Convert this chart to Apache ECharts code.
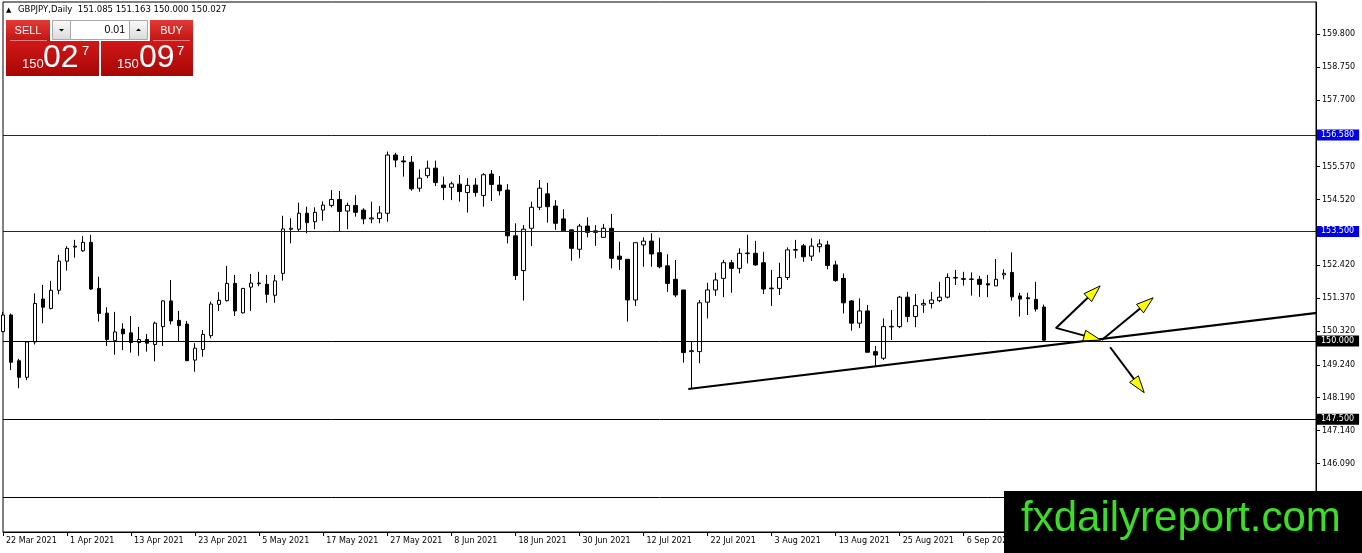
<!DOCTYPE html>
<html>
<head>
<meta charset="utf-8">
<script src="https://cdn.jsdelivr.net/npm/echarts@6/dist/echarts.min.js"></script>
<style>
html,body{margin:0;padding:0;background:#fff;}
#chart{width:1362px;height:553px;}
</style>
</head>
<body>
<div id="chart"></div>
<script>
// ---- data ----
const symbolName = 'GBPJPY';
const timeframe = 'Daily';
const tickLabels = ['22 Mar 2021','1 Apr 2021','13 Apr 2021','23 Apr 2021','5 May 2021','17 May 2021','27 May 2021','8 Jun 2021','18 Jun 2021','30 Jun 2021','12 Jul 2021','22 Jul 2021','3 Aug 2021','13 Aug 2021','25 Aug 2021','6 Sep 2021'];
const barsPerTick = 8;
const totalSlots = 165; // bars plus empty chart shift area
const priceTicks = [159.800,158.750,157.700,155.570,154.520,152.420,151.370,150.320,149.240,148.190,147.140,146.090];
const levels = [156.580,153.500,150.000,147.500,145.000];
const opens = [150.30,150.83,149.37,148.84,149.97,151.34,151.04,151.62,152.55,153.00,152.88,153.15,151.68,150.89,150.01,150.38,150.26,149.95,150.05,149.89,
150.46,151.28,150.66,150.54,149.39,149.73,150.17,151.17,151.29,151.84,150.90,151.72,151.83,151.81,151.46,152.16,153.57,153.57,154.08,153.81,
154.18,154.33,154.52,154.15,154.33,154.18,153.90,153.91,154.08,155.94,155.75,155.71,154.88,155.28,155.52,154.98,154.91,155.01,154.74,154.98,
154.65,155.33,154.98,154.82,153.36,152.25,153.60,154.27,154.70,154.31,153.90,153.55,152.93,153.67,153.47,153.31,153.60,152.71,152.61,151.31,
153.07,153.19,152.82,152.40,151.97,151.63,149.66,149.66,151.24,151.63,152.00,152.50,152.32,152.79,152.80,152.50,151.67,151.68,152.03,152.90,
153.04,152.71,153.01,153.07,152.43,152.00,151.28,150.57,150.96,149.66,149.45,150.45,150.46,151.40,150.78,151.15,151.20,151.29,151.40,152.01,
151.99,151.98,151.97,151.83,151.76,152.11,152.19,151.44,151.38,151.33,151.085];
const closes = [150.83,149.32,148.84,149.97,151.20,151.08,151.62,152.55,152.96,153.03,153.15,151.66,150.88,150.05,150.29,150.23,149.95,150.05,149.93,150.57,
151.28,150.64,150.49,149.37,149.77,150.21,151.18,151.30,151.84,150.96,151.68,151.85,151.85,151.49,151.92,153.58,153.60,154.08,153.78,154.11,
154.34,154.52,154.14,154.33,154.11,153.90,153.93,154.09,155.94,155.78,155.72,154.86,155.20,155.52,155.06,154.90,155.02,154.77,154.97,154.74,
155.31,155.00,154.80,153.36,152.09,153.57,154.27,154.88,154.29,153.76,153.52,152.96,153.67,153.47,153.52,153.60,152.64,152.61,151.31,153.14,
153.19,152.78,152.37,151.84,151.47,149.63,149.69,151.22,151.63,151.95,152.50,152.32,152.80,152.81,152.43,151.66,151.69,152.03,152.91,152.92,
152.69,153.03,153.10,152.41,151.93,151.22,150.57,150.96,149.64,149.55,150.46,150.47,151.40,150.78,151.13,151.20,151.31,151.40,152.03,152.03,
151.97,151.97,151.81,151.79,151.97,152.16,151.41,151.34,151.35,151.02,150.027];
const lows = [150.28,149.07,148.49,148.75,149.89,150.57,151.01,151.49,152.25,152.66,152.85,151.63,150.62,149.84,149.56,149.71,149.63,149.53,149.66,149.35,
149.84,150.53,150.00,149.37,149.02,149.50,150.09,150.96,151.26,150.80,150.88,150.96,151.75,151.22,151.22,151.93,153.12,153.51,153.44,153.57,
153.84,154.27,153.51,153.57,153.97,153.73,153.76,153.76,153.81,155.55,155.25,154.80,154.77,155.20,154.95,154.50,154.50,154.45,154.10,154.61,
154.29,154.47,154.65,153.12,151.95,151.29,153.03,154.18,153.78,153.55,153.52,152.56,152.64,153.31,153.04,153.31,152.32,152.27,150.62,151.12,
152.37,152.37,152.32,151.57,151.40,149.31,148.49,149.29,150.72,151.44,151.40,151.54,152.16,152.48,152.40,151.50,151.12,151.47,151.95,152.64,
152.53,152.56,152.83,152.29,151.89,150.88,150.33,150.41,149.64,149.18,149.39,150.03,150.41,150.60,150.44,150.90,151.04,151.24,151.36,151.79,
151.77,151.45,151.41,151.40,151.76,151.97,151.29,150.78,150.83,150.94,150.000];
const highs = [150.93,150.88,149.43,150.00,151.52,151.79,151.92,152.75,153.03,153.23,153.35,153.39,152.05,151.08,150.93,150.57,150.80,150.45,150.22,150.62,
151.30,151.95,150.96,150.64,149.93,150.35,151.26,151.56,152.40,152.11,151.69,152.14,152.21,152.11,152.11,154.00,153.92,154.42,154.29,154.27,
154.46,154.82,154.79,154.42,154.66,154.24,154.45,154.31,156.05,156.01,155.91,155.91,155.48,155.76,155.76,155.25,155.09,155.30,155.20,155.20,
155.36,155.46,155.27,155.01,153.76,153.70,154.45,155.14,155.05,154.50,154.21,153.55,153.74,153.95,153.70,153.74,154.06,153.17,152.61,153.14,
153.31,153.44,153.30,152.77,152.59,151.63,149.98,151.31,151.86,152.18,152.59,152.59,152.96,153.39,153.20,152.85,152.27,152.50,152.99,153.23,
153.10,153.28,153.25,153.20,152.56,152.16,151.31,151.36,151.15,149.84,150.72,150.99,151.44,151.57,151.50,151.33,151.57,151.89,152.16,152.27,
152.21,152.19,152.08,152.11,152.62,152.29,152.83,151.54,151.54,151.89,151.163];
// trend line anchor points [bar index, price]
const trendLine = [[85.6,148.47],[164.5,150.91]];
// arrows [fromIndex, fromPrice, toIndex, toPrice]
const arrows = [
  [131.5,150.42,137.1,150.03],
  [131.5,150.41,137.04,151.76],
  [137.25,150.03,143.66,151.38],
  [138.29,149.80,142.54,148.35]
];
const bid = '150.027';
const ask = '150.097';

// ---- build ----
const cats = [];
for (let i = 0; i < totalSlots; i++) {
  cats.push(i % barsPerTick === 0 && (i / barsPerTick) < tickLabels.length ? tickLabels[i / barsPerTick] : '');
}
const candleData = opens.map((o, i) => [o, closes[i], lows[i], highs[i]]);
const isTick = (idx) => idx % barsPerTick === 0 && idx / barsPerTick < tickLabels.length;

const blue = '#0000e8';
const levelStyles = [
  {line: '#1515a8', bg: blue},
  {line: '#1515a8', bg: blue},
  {line: '#000', bg: '#000'},
  {line: '#000', bg: '#000'},
  {line: '#000', bg: '#000'}
];
const MT = '"DejaVu Sans", Tahoma, sans-serif';
const AR = '"Liberation Sans", Arial, sans-serif';

const chart = echarts.init(document.getElementById('chart'), null, {renderer: 'canvas'});
const G = echarts.graphic;
const redGrad = () => new G.LinearGradient(0, 0, 0, 1, [{offset: 0, color: '#e23a36'}, {offset: 1, color: '#c11414'}]);
const panelGrad = () => new G.LinearGradient(0, 0, 0, 1, [{offset: 0, color: '#d01818'}, {offset: 1, color: '#a80606'}]);
const greyGrad = () => new G.LinearGradient(0, 0, 0, 1, [{offset: 0, color: '#fbfbfb'}, {offset: 1, color: '#dadada'}]);

function priceParts(s) {
  return [s.slice(0, 3), s.slice(4, 6), s.slice(6, 7)];
}
const bp = priceParts(bid), ap = priceParts(ask);
const last = opens.length - 1;
const header = symbolName + ',' + timeframe + '  ' + [opens[last], highs[last], lows[last], closes[last]].map(v => v.toFixed(3)).join(' ');

const txt = (x, y, text, font, fill, align, z) => ({type: 'text', x, y, z: z || 100, style: {text, font, fill, align: align || 'left', verticalAlign: 'middle'}});

const option = {
  animation: false,
  backgroundColor: '#fff',
  grid: {left: 3, right: 46, top: 2, bottom: 21, show: true, borderColor: '#000', borderWidth: 1, backgroundColor: 'transparent'},
  xAxis: [{
    type: 'category', data: cats, boundaryGap: false,
    axisLine: {show: true, onZero: false, lineStyle: {color: '#000', width: 1}},
    axisTick: {show: true, interval: (idx) => isTick(idx), length: 4, lineStyle: {color: '#000'}},
    axisLabel: {show: true, interval: (idx) => isTick(idx), align: 'left', margin: 5, padding: [0, 0, 0, 3], color: '#000', fontSize: 8, fontFamily: MT},
    splitLine: {show: false}
  }, {
    type: 'value', min: 0, max: totalSlots - 1, show: false, position: 'top',
    axisLine: {show: false, onZero: false}, axisTick: {show: false}, axisLabel: {show: false}, splitLine: {show: false}
  }],
  yAxis: {
    type: 'value', position: 'right', min: 143.900, max: 160.827, scale: true,
    axisLine: {show: true, onZero: false, lineStyle: {color: '#000'}},
    axisTick: {show: true, customValues: priceTicks, length: 4, lineStyle: {color: '#000'}},
    axisLabel: {show: true, customValues: priceTicks, formatter: (v) => Number(v).toFixed(3), margin: 6, color: '#000', fontSize: 8, fontFamily: MT},
    splitLine: {show: false}
  },
  series: [{
    type: 'candlestick',
    xAxisIndex: 0,
    data: candleData,
    barWidth: 4,
    clip: false,
    itemStyle: {color: '#fff', color0: '#000', borderColor: '#000', borderColor0: '#000', borderWidth: 1},
    markLine: {
      silent: true, symbol: ['none', 'none'], animation: false,
      data: levels.map((v, i) => ({
        yAxis: v,
        lineStyle: {color: levelStyles[i].line, width: 1, type: 'solid'},
        label: {show: true, position: 'end', distance: 1, formatter: () => v.toFixed(3), color: '#fff', backgroundColor: levelStyles[i].bg, padding: [2, 5, 1, 4], fontSize: 8, fontFamily: MT}
      }))
    }
  }, {
    type: 'line', xAxisIndex: 1, data: trendLine, symbol: 'none', silent: true,
    lineStyle: {color: '#000', width: 2}, z: 5
  }, {
    type: 'custom', xAxisIndex: 1, data: arrows, silent: true, z: 6,
    encode: {x: [0, 2], y: [1, 3]},
    clip: false,
    renderItem: (params, api) => {
      const p0 = api.coord([api.value(0), api.value(1)]);
      const p1 = api.coord([api.value(2), api.value(3)]);
      const dx = p1[0] - p0[0], dy = p1[1] - p0[1];
      const L = Math.hypot(dx, dy), ux = dx / L, uy = dy / L;
      const hl = 17, hw = 5.5;
      const bx = p1[0] - ux * hl, by = p1[1] - uy * hl;
      return {type: 'group', children: [
        {type: 'line', shape: {x1: p0[0], y1: p0[1], x2: bx + ux * 2, y2: by + uy * 2}, style: {stroke: '#000', lineWidth: 2}},
        {type: 'polygon', shape: {points: [[p1[0], p1[1]], [bx - uy * hw, by + ux * hw], [bx + uy * hw, by - ux * hw]]}, style: {fill: '#ffff00', stroke: '#000', lineWidth: 1}}
      ]};
    }
  }],
  graphic: [
    // header
    txt(6, 10, '▲', '7px ' + MT, '#000'),
    txt(18, 10, header, '8.5px ' + MT, '#000'),
    // sell / buy buttons
    {type: 'rect', z: 100, shape: {x: 6, y: 20, width: 44, height: 21}, style: {fill: redGrad()}},
    {type: 'rect', z: 100, shape: {x: 150, y: 20, width: 43, height: 21}, style: {fill: redGrad()}},
    {type: 'rect', z: 100, shape: {x: 6, y: 41, width: 93, height: 35}, style: {fill: panelGrad()}},
    {type: 'rect', z: 100, shape: {x: 101, y: 41, width: 92, height: 35}, style: {fill: panelGrad()}},
    {type: 'line', z: 101, shape: {x1: 10, y1: 40.5, x2: 47, y2: 40.5}, style: {stroke: 'rgba(255,255,255,0.45)', lineWidth: 1}},
    {type: 'line', z: 101, shape: {x1: 153, y1: 40.5, x2: 190, y2: 40.5}, style: {stroke: 'rgba(255,255,255,0.45)', lineWidth: 1}},
    txt(28, 30.5, 'SELL', '11px ' + AR, '#fff', 'center', 102),
    txt(171.5, 30.5, 'BUY', '11px ' + AR, '#fff', 'center', 102),
    // lot box
    {type: 'rect', z: 100, shape: {x: 52.5, y: 20.5, width: 18, height: 19}, style: {fill: greyGrad(), stroke: '#a8a8a8', lineWidth: 1}},
    {type: 'rect', z: 100, shape: {x: 70.5, y: 20.5, width: 59, height: 19}, style: {fill: '#fff', stroke: '#a8a8a8', lineWidth: 1}},
    {type: 'rect', z: 100, shape: {x: 129.5, y: 20.5, width: 18, height: 19}, style: {fill: greyGrad(), stroke: '#a8a8a8', lineWidth: 1}},
    {type: 'polygon', z: 101, shape: {points: [[59, 29], [64, 29], [61.5, 31.5]]}, style: {fill: '#000'}},
    {type: 'polygon', z: 101, shape: {points: [[136, 31], [141, 31], [138.5, 28.5]]}, style: {fill: '#000'}},
    txt(125, 30, '0.01', '10.5px ' + AR, '#000', 'right', 102),
    // prices
    txt(22, 64.5, bp[0], '13px ' + AR, '#fff', 'left', 102),
    txt(43, 58.5, bp[1], '32px ' + AR, '#fff', 'left', 102),
    txt(82, 51.5, bp[2], '13px ' + AR, '#fff', 'left', 102),
    txt(117, 64.5, ap[0], '13px ' + AR, '#fff', 'left', 102),
    txt(139, 58.5, ap[1], '32px ' + AR, '#fff', 'left', 102),
    txt(177, 51.5, ap[2], '13px ' + AR, '#fff', 'left', 102),
    // watermark
    {type: 'rect', z: 200, shape: {x: 1004, y: 491, width: 358, height: 62}, style: {fill: '#000'}},
    {type: 'text', z: 201, x: 1021, y: 519, style: {text: 'fxdailyreport.com', font: '42px ' + AR, fill: '#3cdc28', align: 'left', verticalAlign: 'middle'}}
  ]
};
chart.setOption(option);
</script>
</body>
</html>
